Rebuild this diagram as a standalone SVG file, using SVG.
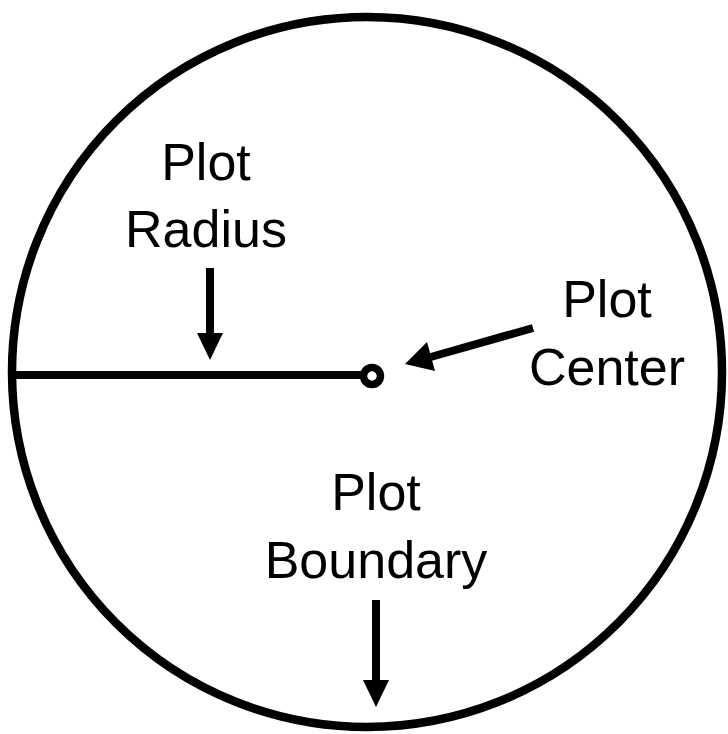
<svg xmlns="http://www.w3.org/2000/svg" width="728" height="734" viewBox="0 0 728 734">
<style>
.lbl{font-family:"Liberation Sans",Arial,sans-serif;font-size:52px;fill:#000;text-anchor:middle}
.ln{stroke:#000;stroke-width:8;fill:none}
.hd{fill:#000}
</style>
<rect width="728" height="734" fill="#fff"/>
<g id="boundary"><circle cx="367" cy="372" r="355" stroke="#000" stroke-width="8.5" fill="none"/></g>
<g id="radius"><line x1="14" y1="375" x2="362" y2="375" stroke="#000" stroke-width="8"/></g>
<g id="center"><circle cx="372" cy="376" r="8.5" stroke="#000" stroke-width="7.5" fill="#fff"/></g>
<g id="label-radius"><text class="lbl" x="206" y="180">Plot</text><text class="lbl" x="206" y="247">Radius</text></g>
<g id="label-center"><text class="lbl" x="607" y="317">Plot</text><text class="lbl" x="607" y="385">Center</text></g>
<g id="label-boundary"><text class="lbl" x="376" y="510">Plot</text><text class="lbl" x="376" y="578">Boundary</text></g>
<g id="connectors">
<line class="ln" x1="210" y1="268" x2="210" y2="336"/>
<polygon class="hd" points="197,333 223,333 210,360"/>
<line class="ln" x1="533" y1="328" x2="429" y2="357.5"/>
<polygon class="hd" points="435,371 427,342 405,364"/>
<line class="ln" x1="376" y1="600" x2="376" y2="683"/>
<polygon class="hd" points="363,680 389,680 376,707"/>
</g>
</svg>
